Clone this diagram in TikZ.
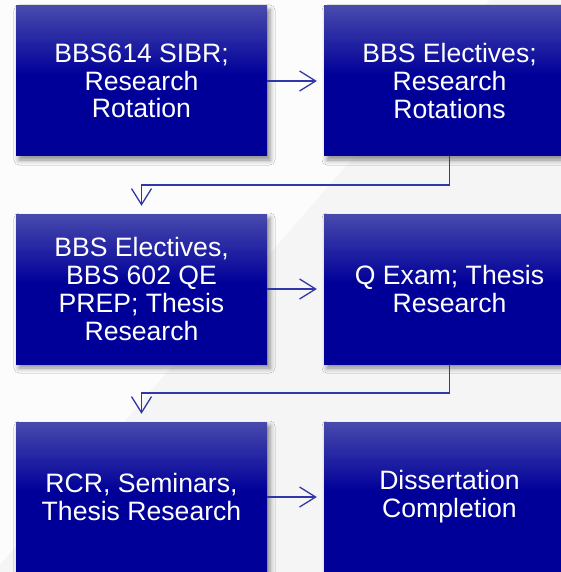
\documentclass[tikz,border=0pt]{standalone}
\usepackage{fontspec}
\setmainfont{Liberation Sans}
\usetikzlibrary{arrows.meta,shadows.blur,calc}
\definecolor{topb}{RGB}{72,74,172}
\definecolor{navyb}{RGB}{0,0,153}
\definecolor{connc}{RGB}{48,56,168}
\definecolor{bgr}{RGB}{245,245,245}
\definecolor{bgl}{RGB}{252,252,252}
\pgfdeclareverticalshading{boxshade}{100bp}{color(0bp)=(navyb); color(25bp)=(navyb); color(52bp)=(navyb); color(75bp)=(topb); color(100bp)=(topb)}
\tikzset{
  stagebox/.style={shading=boxshade, minimum width=251pt, minimum height=150pt,
    inner sep=0pt, align=center, text=white,
    font=\fontsize{26.6}{27.8}\selectfont,
    blur shadow={shadow xshift=3pt, shadow yshift=-4pt, shadow blur radius=5pt, shadow opacity=45}},
  conn/.style={draw=connc, line width=1.3pt, -{Straight Barb[length=16pt,width=20pt,line width=1.3pt]}}
}
\begin{document}
\begin{tikzpicture}[x=1pt,y=-1pt]
\clip (0,0) rectangle (561,572);
\fill[bgl] (0,0) rectangle (561,572);
\fill[bgr] (490,0) -- (561,0) -- (561,572) -- (0,572) -- (0,565) -- cycle;
\node[stagebox] (b1) at (141.5,81) {BBS614 SIBR;\\Research\\Rotation};
\node[stagebox] (b2) at (449.5,81) {BBS Electives;\\Research\\Rotations};
\node[stagebox] (b3) at (141.5,289) {BBS Electives,\\BBS 602 QE\\PREP; Thesis\\Research};
\node[stagebox] (b4) at (449.5,289) {Q Exam; Thesis\\Research};
\node[stagebox] (b5) at (141.5,497) {RCR, Seminars,\\Thesis Research};
\node[stagebox] (b6) at (449.5,497) {Dissertation\\Completion};
\draw[conn, shorten >=7pt] (b1.east) -- (b2.west);
\draw[conn, shorten >=7pt] (b3.east) -- (b4.west);
\draw[conn, shorten >=7pt] (b5.east) -- (b6.west);
\draw[conn, shorten >=8pt] (b2.south) |- ($(b2.south)!.5!(b3.north)$) -| (b3.north);
\draw[conn, shorten >=8pt] (b4.south) |- ($(b4.south)!.5!(b5.north)$) -| (b5.north);
\end{tikzpicture}
\end{document}
